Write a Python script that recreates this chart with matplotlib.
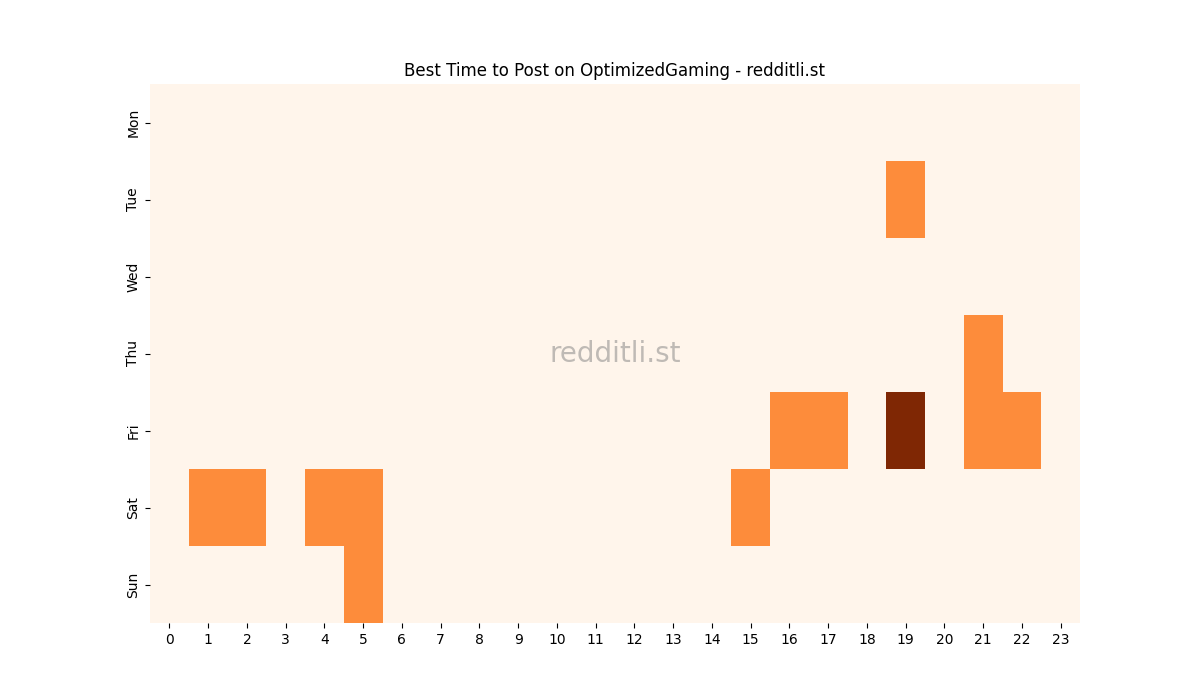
import matplotlib
matplotlib.use("Agg")
import matplotlib.pyplot as plt
import numpy as np
import seaborn as sns

days = ["Mon", "Tue", "Wed", "Thu", "Fri", "Sat", "Sun"]
hours = list(range(24))

# (day, hour, value) — 나머지는 0
mon = [0] * 24
tue = [0] * 19 + [1] + [0] * 4
wed = [0] * 24
thu = [0] * 21 + [1] + [0] * 2
fri = [0] * 16 + [1, 1, 0, 2, 0, 1, 1, 0]
sat = [0, 1, 1, 0, 1, 1] + [0] * 9 + [1] + [0] * 8
sun = [0] * 5 + [1] + [0] * 18

grid = np.array([mon, tue, wed, thu, fri, sat, sun])

fig, ax = plt.subplots(figsize=(12, 7), dpi=100)
sns.heatmap(grid, cmap="Oranges", vmin=0, vmax=2, cbar=False,
            xticklabels=hours, yticklabels=days, ax=ax)
ax.set_yticklabels(days, rotation=90, va="center")
ax.set_xticklabels(hours, rotation=0)
ax.set_title("Best Time to Post on OptimizedGaming - redditli.st")
ax.text(0.5, 0.5, "redditli.st", transform=ax.transAxes,
        ha="center", va="center", fontsize=20, color="gray", alpha=0.5)

fig.savefig("out.png", dpi=100)
